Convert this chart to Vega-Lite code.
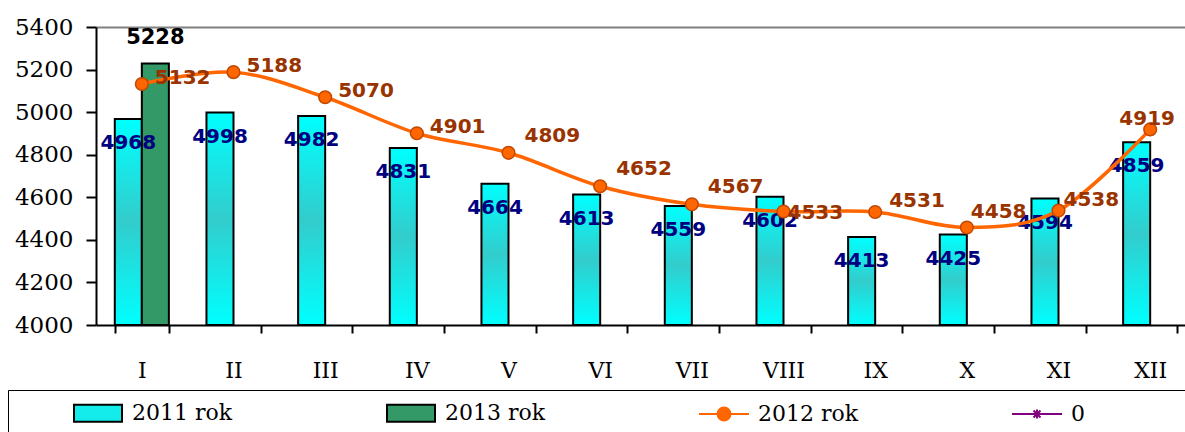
{
  "$schema": "https://vega.github.io/schema/vega-lite/v6.json",
  "width": 1089,
  "height": 298,
  "autosize": {"type": "none"},
  "padding": {"left": 96, "top": 27, "right": 0, "bottom": 107},
  "background": "white",
  "config": {"view": {"stroke": null}, "font": "DejaVu Sans", "legend": {"symbolOpacity": 1, "symbolStrokeWidth": 2}},
  "datasets": {
    "bars": [
      {"month": "I", "series": "2011 rok", "value": 4968},
      {"month": "II", "series": "2011 rok", "value": 4998},
      {"month": "III", "series": "2011 rok", "value": 4982},
      {"month": "IV", "series": "2011 rok", "value": 4831},
      {"month": "V", "series": "2011 rok", "value": 4664},
      {"month": "VI", "series": "2011 rok", "value": 4613},
      {"month": "VII", "series": "2011 rok", "value": 4559},
      {"month": "VIII", "series": "2011 rok", "value": 4602},
      {"month": "IX", "series": "2011 rok", "value": 4413},
      {"month": "X", "series": "2011 rok", "value": 4425},
      {"month": "XI", "series": "2011 rok", "value": 4594},
      {"month": "XII", "series": "2011 rok", "value": 4859},
      {"month": "I", "series": "2013 rok", "value": 5228}
    ],
    "line": [
      {"month": "I", "series": "2012 rok", "value": 5132},
      {"month": "II", "series": "2012 rok", "value": 5188},
      {"month": "III", "series": "2012 rok", "value": 5070},
      {"month": "IV", "series": "2012 rok", "value": 4901},
      {"month": "V", "series": "2012 rok", "value": 4809},
      {"month": "VI", "series": "2012 rok", "value": 4652},
      {"month": "VII", "series": "2012 rok", "value": 4567},
      {"month": "VIII", "series": "2012 rok", "value": 4533},
      {"month": "IX", "series": "2012 rok", "value": 4531},
      {"month": "X", "series": "2012 rok", "value": 4458},
      {"month": "XI", "series": "2012 rok", "value": 4538},
      {"month": "XII", "series": "2012 rok", "value": 4919}
    ]
  },
  "encoding": {
    "x": {
      "field": "month",
      "type": "ordinal",
      "sort": ["I", "II", "III", "IV", "V", "VI", "VII", "VIII", "IX", "X", "XI", "XII"],
      "scale": {"range": [0, 1100], "paddingInner": 0.41, "paddingOuter": 0.205},
      "axis": {
        "title": null,
        "labelAngle": 0,
        "labelFont": "DejaVu Serif",
        "labelFontSize": 22,
        "labelColor": "black",
        "labelPadding": 27,
        "tickSize": 8,
        "tickWidth": 2,
        "tickColor": "black",
        "tickBand": "extent",
        "domainColor": "black",
        "domainWidth": 2,
        "grid": false
      }
    },
    "y": {
      "field": "value",
      "type": "quantitative",
      "scale": {"domain": [4000, 5400], "nice": false, "zero": false},
      "axis": {
        "title": null,
        "values": [4000, 4200, 4400, 4600, 4800, 5000, 5200, 5400],
        "format": "d",
        "labelFont": "DejaVu Serif",
        "labelFontSize": 23,
        "labelColor": "black",
        "labelPadding": 13,
        "tickSize": 10,
        "tickWidth": 2,
        "tickColor": "black",
        "domainColor": "black",
        "domainWidth": 2,
        "grid": true,
        "gridColor": "#808080",
        "gridWidth": 2,
        "gridOpacity": {"condition": {"test": "datum.value === 5400", "value": 1}, "value": 0}
      }
    }
  },
  "layer": [
    {
      "data": {"name": "bars"},
      "mark": {"type": "bar", "stroke": "black", "strokeWidth": 2},
      "encoding": {
        "y2": {"datum": 4000},
        "xOffset": {"field": "series", "type": "nominal", "scale": {"domain": ["2011 rok", "2013 rok"], "paddingInner": 0, "paddingOuter": 0}},
        "color": {
          "condition": {
            "test": "datum.series === '2011 rok'",
            "value": {"gradient": "linear", "x1": 0, "y1": 0, "x2": 0, "y2": 1, "stops": [{"offset": 0, "color": "#00FFFF"}, {"offset": 0.5, "color": "#33CCCC"}, {"offset": 1, "color": "#00FFFF"}]}
          },
          "value": "#339966"
        }
      }
    },
    {
      "data": {"name": "bars"},
      "transform": [{"filter": "datum.series === '2011 rok'"}],
      "mark": {"type": "text", "dy": 24, "baseline": "middle", "align": "center", "font": "DejaVu Sans", "fontSize": 20, "fontWeight": "bold", "color": "#000080"},
      "encoding": {
        "xOffset": {"field": "series", "type": "nominal"},
        "text": {"field": "value", "type": "nominal"}
      }
    },
    {
      "data": {"name": "line"},
      "mark": {"type": "line", "interpolate": "cardinal", "strokeWidth": 3.5, "color": "#FF6600"}
    },
    {
      "data": {"name": "line"},
      "mark": {"type": "point", "shape": "circle", "filled": true, "fill": "#FF6600", "stroke": "#C04800", "strokeWidth": 1.5, "size": 160, "opacity": 1}
    },
    {
      "data": {"name": "line"},
      "mark": {"type": "point", "filled": true, "opacity": 0},
      "encoding": {
        "color": {
          "field": "series",
          "type": "nominal",
          "scale": {"domain": ["2011 rok", "2013 rok", "2012 rok", "0"], "range": ["#14EBEB", "#339966", "#FF6600", "#800080"]},
          "legend": {
            "orient": "none",
            "legendX": -88,
            "legendY": 363,
            "direction": "horizontal",
            "columns": 4,
            "gridAlign": "all",
            "columnPadding": 100,
            "padding": 12,
            "strokeColor": "black",
            "title": " ",
            "titleOrient": "right",
            "titlePadding": 100,
            "titleFontSize": 8,
            "symbolSize": 400,
            "symbolOffset": 67,
            "symbolOpacity": 1,
            "symbolStrokeWidth": 2,
            "labelOffset": 23,
            "labelFont": "DejaVu Serif",
            "labelFontSize": 22,
            "labelColor": "black"
          }
        },
        "shape": {
          "field": "series",
          "type": "nominal",
          "scale": {
            "domain": ["2011 rok", "2013 rok", "2012 rok", "0"],
            "range": [
              "M-2.4,-0.85H2.4V0.85H-2.4Z",
              "M-2.4,-0.85H2.4V0.85H-2.4Z",
              "M-2.5,0H-0.65M0.65,0H2.5M0.65,0A0.65,0.65,0,1,1,-0.65,0A0.65,0.65,0,1,1,0.65,0Z",
              "M-2.5,0H2.5M-0.35,-0.35L0.35,0.35M-0.35,0.35L0.35,-0.35M0,-0.45V0.45"
            ]
          }
        },
        "stroke": {
          "field": "series",
          "type": "nominal",
          "scale": {"domain": ["2011 rok", "2013 rok", "2012 rok", "0"], "range": ["black", "black", "#FF6600", "#800080"]}
        }
      }
    },
    {
      "data": {"name": "line"},
      "transform": [{"filter": {"field": "month", "oneOf": ["I", "II", "III", "IV"]}}],
      "mark": {"type": "text", "dx": 13, "dy": -6, "align": "left", "baseline": "middle", "font": "DejaVu Sans", "fontSize": 20, "fontWeight": "bold", "color": "#993300"},
      "encoding": {"text": {"field": "value", "type": "nominal"}}
    },
    {
      "data": {"name": "line"},
      "transform": [{"filter": {"field": "month", "oneOf": ["V", "VI", "VII"]}}],
      "mark": {"type": "text", "dx": 16, "dy": -17, "align": "left", "baseline": "middle", "font": "DejaVu Sans", "fontSize": 20, "fontWeight": "bold", "color": "#993300"},
      "encoding": {"text": {"field": "value", "type": "nominal"}}
    },
    {
      "data": {"name": "line"},
      "transform": [{"filter": {"field": "month", "oneOf": ["VIII"]}}],
      "mark": {"type": "text", "dx": 4, "dy": 1, "align": "left", "baseline": "middle", "font": "DejaVu Sans", "fontSize": 20, "fontWeight": "bold", "color": "#993300"},
      "encoding": {"text": {"field": "value", "type": "nominal"}}
    },
    {
      "data": {"name": "line"},
      "transform": [{"filter": {"field": "month", "oneOf": ["IX"]}}],
      "mark": {"type": "text", "dx": 14, "dy": -11, "align": "left", "baseline": "middle", "font": "DejaVu Sans", "fontSize": 20, "fontWeight": "bold", "color": "#993300"},
      "encoding": {"text": {"field": "value", "type": "nominal"}}
    },
    {
      "data": {"name": "line"},
      "transform": [{"filter": {"field": "month", "oneOf": ["X"]}}],
      "mark": {"type": "text", "dx": 4, "dy": -16, "align": "left", "baseline": "middle", "font": "DejaVu Sans", "fontSize": 20, "fontWeight": "bold", "color": "#993300"},
      "encoding": {"text": {"field": "value", "type": "nominal"}}
    },
    {
      "data": {"name": "line"},
      "transform": [{"filter": {"field": "month", "oneOf": ["XI"]}}],
      "mark": {"type": "text", "dx": 5, "dy": -10, "align": "left", "baseline": "middle", "font": "DejaVu Sans", "fontSize": 20, "fontWeight": "bold", "color": "#993300"},
      "encoding": {"text": {"field": "value", "type": "nominal"}}
    },
    {
      "data": {"name": "line"},
      "transform": [{"filter": {"field": "month", "oneOf": ["XII"]}}],
      "mark": {"type": "text", "dx": -3, "dy": -10, "align": "center", "baseline": "middle", "font": "DejaVu Sans", "fontSize": 20, "fontWeight": "bold", "color": "#993300"},
      "encoding": {"text": {"field": "value", "type": "nominal"}}
    },
    {
      "data": {"name": "bars"},
      "transform": [{"filter": "datum.series === '2013 rok'"}],
      "mark": {"type": "text", "dy": -26, "baseline": "middle", "align": "center", "font": "DejaVu Sans", "fontSize": 21, "fontWeight": "bold", "color": "black"},
      "encoding": {
        "xOffset": {"field": "series", "type": "nominal"},
        "text": {"field": "value", "type": "nominal"}
      }
    }
  ]
}
